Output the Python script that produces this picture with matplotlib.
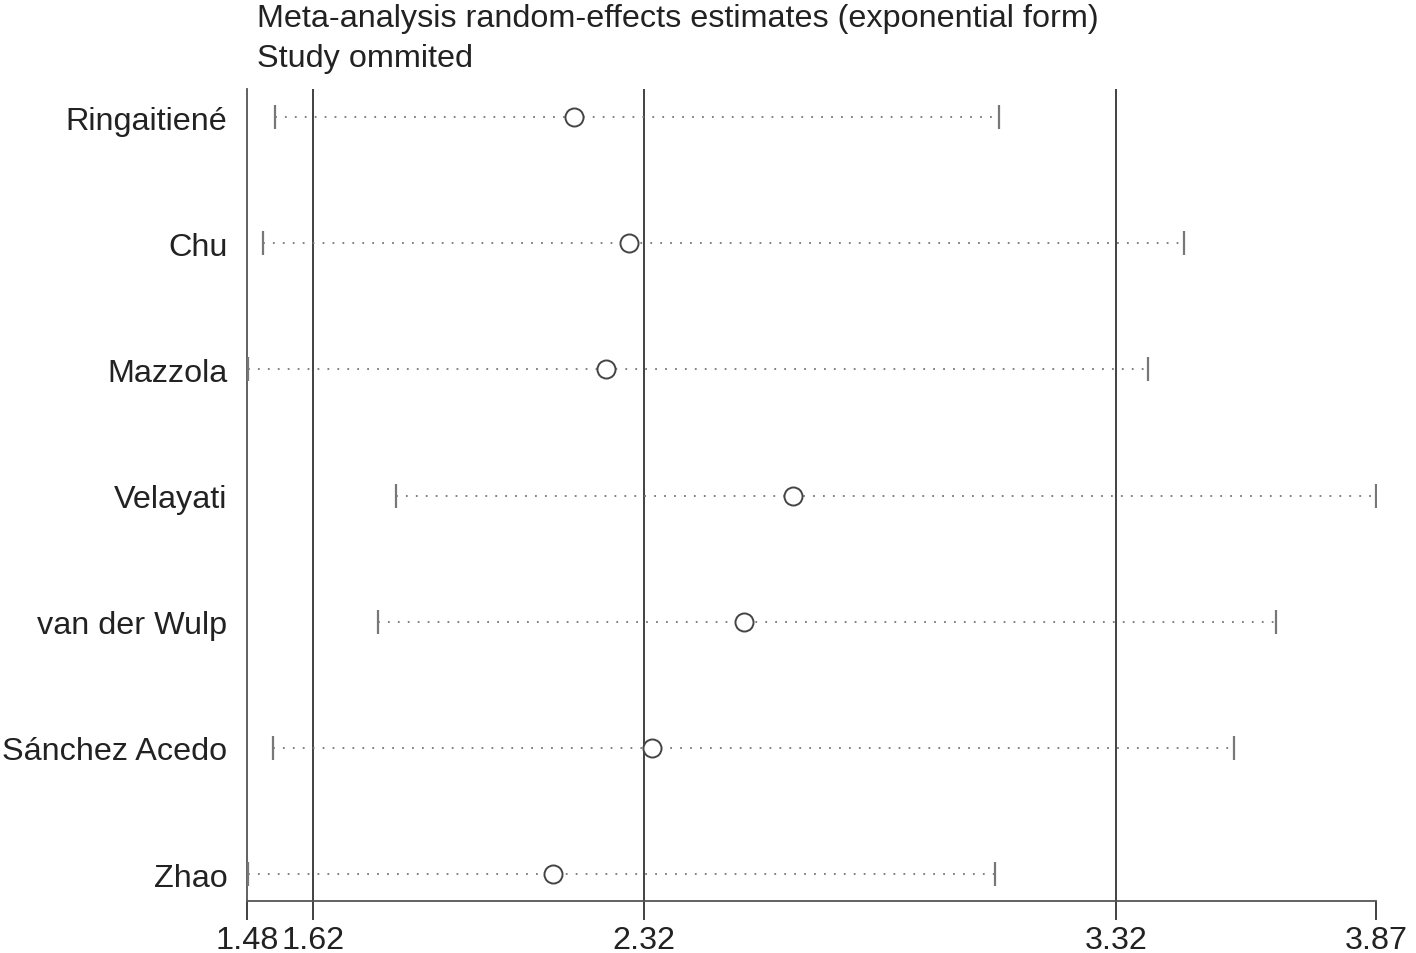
import matplotlib
matplotlib.use("Agg")
import matplotlib.pyplot as plt

plt.rcParams['font.family'] = ['Liberation Sans', 'DejaVu Sans']

# studies (top to bottom) and estimates
studies = ["Ringaitiené", "Chu", "Mazzola", "Velayati", "van der Wulp",
           "Sánchez Acedo", "Zhao"]
estimate = [2.172, 2.289, 2.240, 2.636, 2.532, 2.337, 2.128]
lower = [1.539, 1.514, 1.482, 1.795, 1.757, 1.535, 1.482]
upper = [3.072, 3.463, 3.387, 3.870, 3.658, 3.569, 3.063]

ref_lines = [1.62, 2.32, 3.32]
xticks = [1.48, 1.62, 2.32, 3.32, 3.87]

fig = plt.figure(figsize=(14.16, 9.54), dpi=100)
ax = fig.add_axes([247 / 1416, 52 / 954, 1129 / 1416, 812 / 954])

n = len(studies)
ypos = list(range(n - 1, -1, -1))

for xv in ref_lines:
    ax.axvline(xv, color="#333333", lw=1.3, zorder=1)

for y, lo, est, hi in zip(ypos, lower, estimate, upper):
    ax.plot([lo, hi], [y, y], color="#777777", lw=1.3,
            linestyle=(0, (1, 4.5)), zorder=2)
    ax.plot([lo, hi], [y, y], linestyle="none", marker="|", markersize=17,
            markeredgewidth=1.6, color="#777777", zorder=3)
    ax.plot(est, y, marker="o", markersize=13, markerfacecolor="white",
            markeredgecolor="#444444", markeredgewidth=1.4, zorder=4)

ax.set_xlim(1.48, 3.87)
ax.set_ylim(-0.214, n - 1 + 0.222)
ax.set_yticks(ypos)
ax.set_yticklabels(studies, fontsize=23.3, color="#222222")
ax.tick_params(axis="y", length=0, pad=14)
ax.set_xticks(xticks)
ax.set_xticklabels([f"{v:.2f}" for v in xticks], fontsize=23.3, color="#222222")
ax.tick_params(axis="x", length=14, width=1.3, color="#333333", pad=3)

for s in ["top", "right"]:
    ax.spines[s].set_visible(False)
ax.spines["left"].set_color("#555555")
ax.spines["left"].set_linewidth(1.3)
ax.spines["bottom"].set_color("#555555")
ax.spines["bottom"].set_linewidth(1.3)

fig.text(257 / 1416, 1 - 4 / 954,
         "Meta-analysis random-effects estimates (exponential form)\nStudy ommited",
         fontsize=23.3, color="#222222", va="top", ha="left", linespacing=1.45)

fig.savefig("out.png", dpi=100)
